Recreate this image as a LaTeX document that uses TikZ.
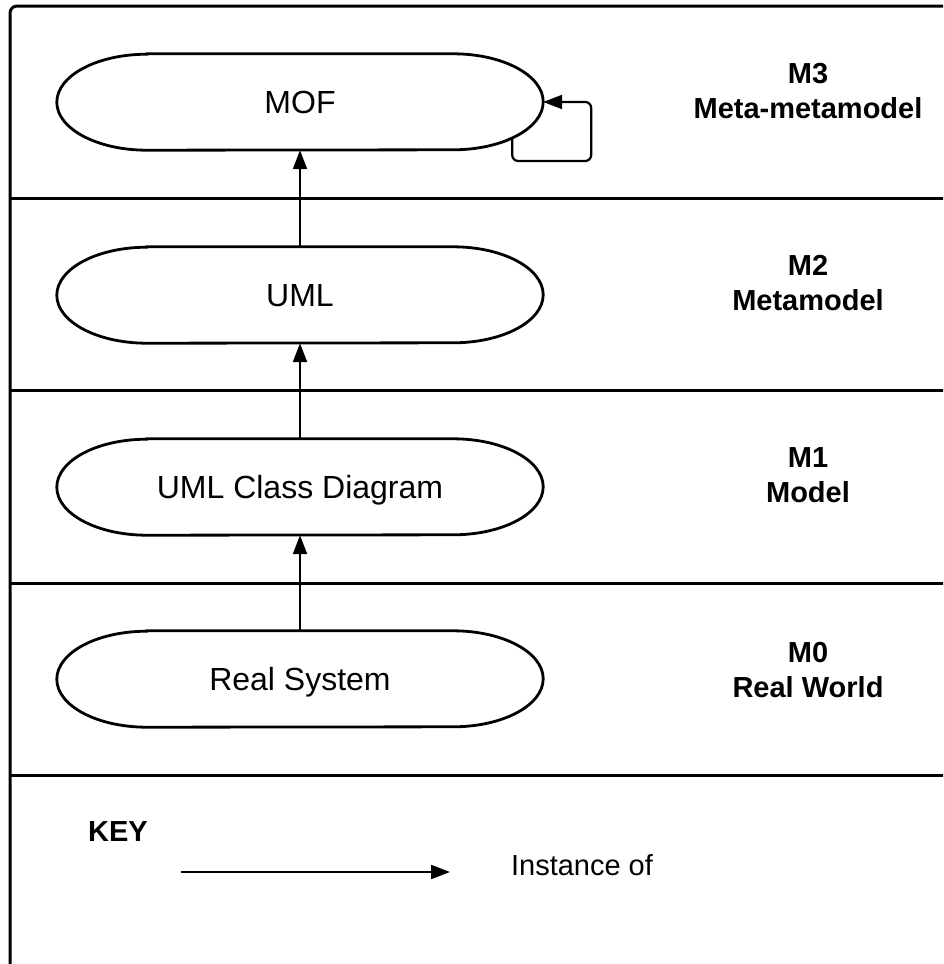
\documentclass[tikz,border=0pt]{standalone}
\usepackage{fontspec}
\setmainfont{Liberation Sans}
\usetikzlibrary{arrows.meta,calc}

\begin{document}
\begin{tikzpicture}[x=1pt,y=1pt,
  level/.style={font=\fontsize{32}{38}\selectfont, minimum width=486pt,
    minimum height=96pt, inner sep=0pt, text height=23pt, text depth=0pt},
  layer/.style={font=\bfseries\fontsize{29}{35}\selectfont, align=center},
  inst/.style={-{Triangle[length=19pt,width=14pt]}, line width=2.2pt},
  divider/.style={line width=3pt},
  frame/.style={line width=3pt},
  outline/.style={line width=2.8pt}]
\useasboundingbox (0,0) rectangle (943,-964);
\clip (0,0) rectangle (943,-964);

% outer frame and layer dividers
\draw[frame, rounded corners=7pt] (10,-6) rectangle (990,-1010);
\foreach \y in {198,390,583,775} \draw[divider] (10,-\y) -- (960,-\y);

% modelling levels
\node[level] (mof) at (300,-102) {MOF};
\node[level] (uml) at (300,-295) {UML};
\node[level] (ucd) at (300,-487) {UML Class Diagram};
\node[level] (rs)  at (300,-679) {Real System};

% stadium outlines with elliptical ends
\foreach \n in {mof,uml,ucd,rs}
  \draw[outline] ([xshift=90pt]\n.north west) -- ([xshift=-90pt]\n.north east)
     arc[start angle=90,end angle=-90,x radius=90pt,y radius=48pt]
     -- ([xshift=90pt]\n.south west)
     arc[start angle=270,end angle=90,x radius=90pt,y radius=48pt] -- cycle;

% instance-of relations
\draw[inst] (uml.north) -- (mof.south);
\draw[inst] (ucd.north) -- (uml.south);
\draw[inst] (rs.north) -- (ucd.south);

% MOF is an instance of itself
\coordinate (loopstart) at ($(mof.east)+(-31,-36)$);
\draw[inst, rounded corners=6pt] (loopstart) -- ++(0,-23) -| ($(mof.east)+(48,0)$) -- (mof.east);

% layer names
\node[layer] (m3) at (808,-91)  {M3\\Meta-metamodel};
\node[layer] (m2) at (808,-283) {M2\\Metamodel};
\node[layer] (m1) at (808,-475) {M1\\Model};
\node[layer] (m0) at (808,-670) {M0\\Real World};

% key
\node[font=\bfseries\fontsize{29}{35}\selectfont] (key) at (118,-832) {KEY};
\coordinate (keya) at (181,-872);
\coordinate (keyb) at (450,-872);
\draw[inst] (keya) -- (keyb);
\node[font=\fontsize{29}{35}\selectfont] (instlbl) at (582,-865) {Instance of};
\end{tikzpicture}
\end{document}
